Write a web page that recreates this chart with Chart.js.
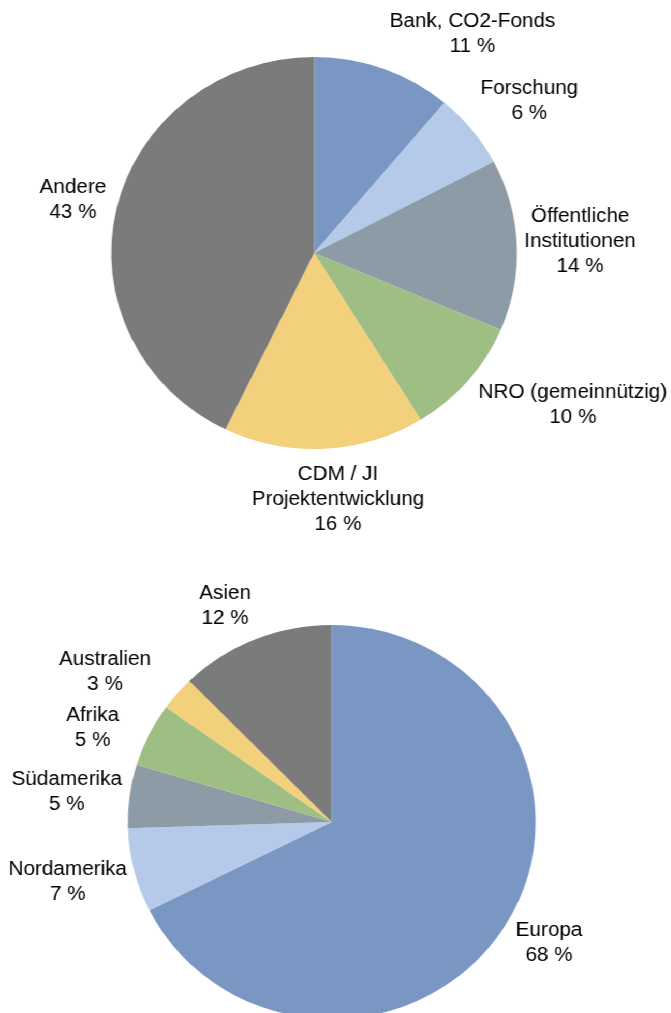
<!DOCTYPE html>
<html>
<head>
<meta charset="utf-8">
<script src="https://cdn.jsdelivr.net/npm/chart.js@4/dist/chart.umd.min.js"></script>
<style>
  html, body { margin: 0; padding: 0; background: #fff; overflow: hidden; }
  #wrap { position: relative; width: 648px; height: 1013px; transform: scaleX(1.035); transform-origin: 0 0; }
  canvas { position: absolute; left: 0; }
  #top { top: 0; }
  #bottom { top: 505px; }
</style>
</head>
<body>
<div id="wrap">
  <canvas id="top" width="648" height="545"></canvas>
  <canvas id="bottom" width="648" height="640"></canvas>
</div>
<script>
// Akteure (Anteil in %)
var actorLabels = [["Bank, CO2-Fonds"], ["Forschung"], ["Öffentliche", "Institutionen"], ["NRO (gemeinnützig)"], ["CDM / JI", "Projektentwicklung"], ["Andere"]];
var actorValues = [11.1, 6.2, 14.1, 9.8, 16.0, 42.8];

// Regionen (Anteil in %)
var regionLabels = [["Europa"], ["Nordamerika"], ["Südamerika"], ["Afrika"], ["Australien"], ["Asien"]];
var regionValues = [67.6, 6.9, 5.2, 5.2, 2.8, 12.3];

var colors = ["#7a97c4", "#b4cae8", "#8d9ba6", "#9fbe83", "#f3d07b", "#7b7b7b"];

// label block centres, relative to pie centre (px)
var actorLabelPos = [[153, -219], [208, -152], [257, -12], [250, 152], [23, 246], [-233, -53]];
var regionLabelPos = [[210, 121], [-255, 60], [-256, -30], [-231, -94], [-219, -150], [-103, -216]];

var labelPlugin = {
  id: "outLabels",
  afterDatasetsDraw: function(chart, args, opts) {
    var ctx = chart.ctx;
    var arcs = chart.getDatasetMeta(0).data;
    var vals = chart.data.datasets[0].data;
    var names = chart.data.labels;
    ctx.save();
    ctx.font = '20px "Liberation Sans", Arial, sans-serif';
    ctx.fillStyle = "#000";
    ctx.textAlign = "center";
    ctx.textBaseline = "middle";
    for (var i = 0; i < arcs.length; i++) {
      var lines = names[i].concat([Math.round(vals[i]) + " %"]);
      var cx = arcs[i].x + opts.pos[i][0];
      var cy = arcs[i].y + opts.pos[i][1];
      var y0 = cy - (lines.length - 1) * 25 / 2;
      for (var j = 0; j < lines.length; j++) {
        ctx.fillText(lines[j], cx, y0 + j * 25);
      }
    }
    ctx.restore();
  }
};

function makePie(id, labels, values, pos, padding) {
  return new Chart(document.getElementById(id), {
    type: "pie",
    data: {
      labels: labels,
      datasets: [{
        data: values,
        backgroundColor: colors,
        borderWidth: 0
      }]
    },
    options: {
      responsive: false,
      animation: false,
      layout: { padding: padding },
      plugins: {
        legend: { display: false },
        tooltip: { enabled: false },
        outLabels: { pos: pos }
      }
    },
    plugins: [labelPlugin]
  });
}

makePie("top", actorLabels, actorValues, actorLabelPos, { left: 0, right: 41, top: 57, bottom: 96 });
makePie("bottom", regionLabels, regionValues, regionLabelPos, { left: 0, right: 7, top: 120, bottom: 126 });
</script>
</body>
</html>
